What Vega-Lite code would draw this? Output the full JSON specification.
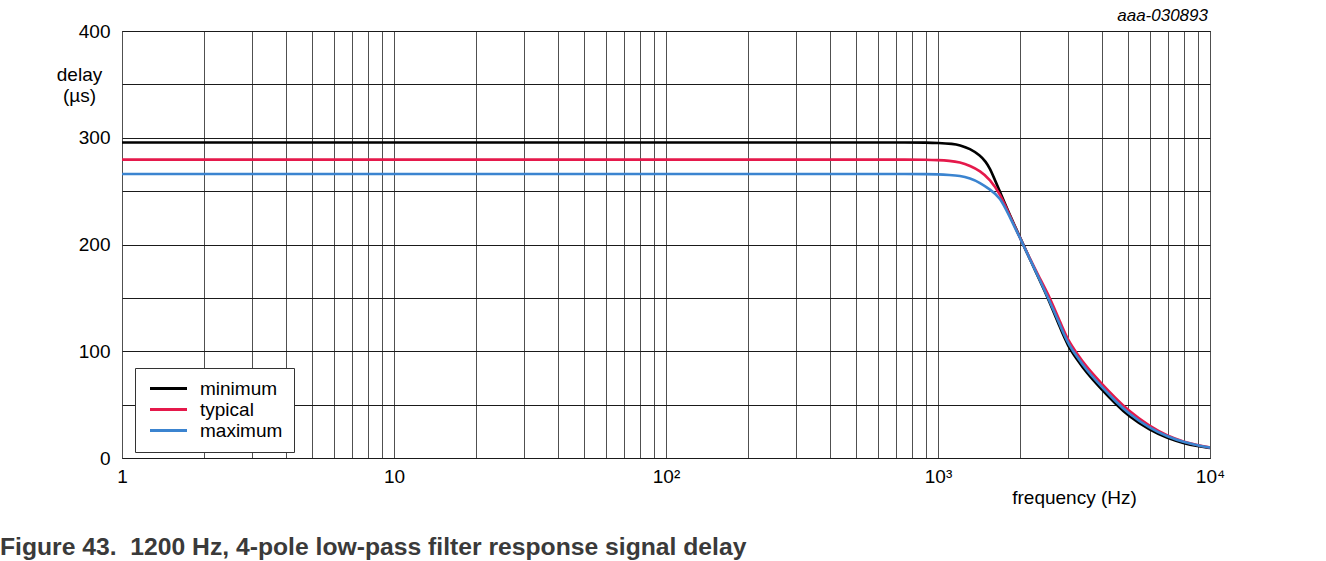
{
  "$schema": "https://vega.github.io/schema/vega-lite/v6.json",
  "width": 1088,
  "height": 427,
  "autosize": {"type": "none"},
  "padding": {"left": 122, "top": 31, "right": 116, "bottom": 103},
  "background": "#ffffff",
  "config": {
    "font": "Liberation Sans",
    "view": {"stroke": "#000000", "strokeWidth": 1}
  },
  "title": {
    "text": "Figure 43.\u00a0 1200 Hz, 4-pole low-pass filter response signal delay",
    "orient": "bottom",
    "anchor": "start",
    "frame": "group",
    "dx": -122,
    "offset": 28,
    "font": "Liberation Sans",
    "fontSize": 24.7,
    "fontWeight": "bold",
    "color": "#3a3a3a"
  },
  "datasets": {
    "curves": [
      {"f": 1, "delay": 295.6, "series": "minimum"},
      {"f": 100, "delay": 295.6, "series": "minimum"},
      {"f": 500, "delay": 295.6, "series": "minimum"},
      {"f": 800, "delay": 295.6, "series": "minimum"},
      {"f": 900, "delay": 295.5, "series": "minimum"},
      {"f": 1000, "delay": 295.2, "series": "minimum"},
      {"f": 1135, "delay": 294.3, "series": "minimum"},
      {"f": 1200, "delay": 293.2, "series": "minimum"},
      {"f": 1311, "delay": 289.8, "series": "minimum"},
      {"f": 1427, "delay": 283.5, "series": "minimum"},
      {"f": 1500, "delay": 277.5, "series": "minimum"},
      {"f": 1553, "delay": 271, "series": "minimum"},
      {"f": 1600, "delay": 263.5, "series": "minimum"},
      {"f": 1690, "delay": 249.5, "series": "minimum"},
      {"f": 1834, "delay": 228, "series": "minimum"},
      {"f": 2000, "delay": 207, "series": "minimum"},
      {"f": 2170, "delay": 187, "series": "minimum"},
      {"f": 2365, "delay": 166.5, "series": "minimum"},
      {"f": 2544, "delay": 149, "series": "minimum"},
      {"f": 2817, "delay": 121.5, "series": "minimum"},
      {"f": 3000, "delay": 105, "series": "minimum"},
      {"f": 3250, "delay": 92, "series": "minimum"},
      {"f": 3500, "delay": 80.5, "series": "minimum"},
      {"f": 4000, "delay": 64, "series": "minimum"},
      {"f": 4500, "delay": 50.5, "series": "minimum"},
      {"f": 5000, "delay": 39.5, "series": "minimum"},
      {"f": 6000, "delay": 26, "series": "minimum"},
      {"f": 7000, "delay": 18.4, "series": "minimum"},
      {"f": 8000, "delay": 13.8, "series": "minimum"},
      {"f": 9000, "delay": 11, "series": "minimum"},
      {"f": 10000, "delay": 9.3, "series": "minimum"},

      {"f": 1, "delay": 279.5, "series": "typical"},
      {"f": 100, "delay": 279.5, "series": "typical"},
      {"f": 500, "delay": 279.5, "series": "typical"},
      {"f": 800, "delay": 279.5, "series": "typical"},
      {"f": 900, "delay": 279.4, "series": "typical"},
      {"f": 1000, "delay": 279.1, "series": "typical"},
      {"f": 1100, "delay": 278.5, "series": "typical"},
      {"f": 1205, "delay": 277, "series": "typical"},
      {"f": 1311, "delay": 273.8, "series": "typical"},
      {"f": 1427, "delay": 269, "series": "typical"},
      {"f": 1553, "delay": 261, "series": "typical"},
      {"f": 1690, "delay": 247.5, "series": "typical"},
      {"f": 1834, "delay": 227.5, "series": "typical"},
      {"f": 2000, "delay": 206.5, "series": "typical"},
      {"f": 2170, "delay": 187.5, "series": "typical"},
      {"f": 2365, "delay": 168.5, "series": "typical"},
      {"f": 2582, "delay": 150, "series": "typical"},
      {"f": 2817, "delay": 127, "series": "typical"},
      {"f": 3000, "delay": 110.5, "series": "typical"},
      {"f": 3250, "delay": 97.5, "series": "typical"},
      {"f": 3500, "delay": 86, "series": "typical"},
      {"f": 4000, "delay": 69.5, "series": "typical"},
      {"f": 4500, "delay": 56, "series": "typical"},
      {"f": 5000, "delay": 44.5, "series": "typical"},
      {"f": 6000, "delay": 29.5, "series": "typical"},
      {"f": 7000, "delay": 20.6, "series": "typical"},
      {"f": 8000, "delay": 15.2, "series": "typical"},
      {"f": 9000, "delay": 12, "series": "typical"},
      {"f": 10000, "delay": 9.8, "series": "typical"},

      {"f": 1, "delay": 266, "series": "maximum"},
      {"f": 100, "delay": 266, "series": "maximum"},
      {"f": 500, "delay": 266, "series": "maximum"},
      {"f": 800, "delay": 266, "series": "maximum"},
      {"f": 900, "delay": 265.9, "series": "maximum"},
      {"f": 1000, "delay": 265.7, "series": "maximum"},
      {"f": 1100, "delay": 265.2, "series": "maximum"},
      {"f": 1205, "delay": 264.5, "series": "maximum"},
      {"f": 1311, "delay": 262, "series": "maximum"},
      {"f": 1427, "delay": 258, "series": "maximum"},
      {"f": 1553, "delay": 251.5, "series": "maximum"},
      {"f": 1690, "delay": 244.5, "series": "maximum"},
      {"f": 1834, "delay": 226, "series": "maximum"},
      {"f": 2000, "delay": 206.5, "series": "maximum"},
      {"f": 2170, "delay": 187, "series": "maximum"},
      {"f": 2365, "delay": 167, "series": "maximum"},
      {"f": 2544, "delay": 149.5, "series": "maximum"},
      {"f": 2817, "delay": 124, "series": "maximum"},
      {"f": 3000, "delay": 107.5, "series": "maximum"},
      {"f": 3250, "delay": 94.5, "series": "maximum"},
      {"f": 3500, "delay": 83, "series": "maximum"},
      {"f": 4000, "delay": 66.5, "series": "maximum"},
      {"f": 4500, "delay": 53, "series": "maximum"},
      {"f": 5000, "delay": 42, "series": "maximum"},
      {"f": 6000, "delay": 28, "series": "maximum"},
      {"f": 7000, "delay": 19.8, "series": "maximum"},
      {"f": 8000, "delay": 14.8, "series": "maximum"},
      {"f": 9000, "delay": 11.7, "series": "maximum"},
      {"f": 10000, "delay": 9.7, "series": "maximum"}
    ],
    "tag": [{"t": "aaa-030893"}]
  },
  "layer": [
    {
      "data": {"name": "curves"},
      "mark": {"type": "line", "strokeWidth": 2.6, "interpolate": "basis", "clip": true},
      "encoding": {
        "x": {
          "field": "f",
          "type": "quantitative",
          "scale": {"type": "log", "domain": [1, 10000]},
          "axis": {
            "values": [1, 2, 3, 4, 5, 6, 7, 8, 9, 10, 20, 30, 40, 50, 60, 70, 80, 90, 100, 200, 300, 400, 500, 600, 700, 800, 900, 1000, 2000, 3000, 4000, 5000, 6000, 7000, 8000, 9000, 10000],
            "labelExpr": "datum.value == 1 ? '1' : datum.value == 10 ? '10' : datum.value == 100 ? '10²' : datum.value == 1000 ? '10³' : datum.value == 10000 ? '10⁴' : ''",
            "grid": true,
            "gridColor": "#505050",
            "gridWidth": 1,
            "gridOpacity": 1,
            "ticks": false,
            "domain": false,
            "labelFont": "Liberation Sans",
            "labelFontSize": 19,
            "labelColor": "#000000",
            "labelPadding": 9,
            "labelOverlap": false,
            "labelBound": false,
            "labelFlush": false,
            "title": "frequency (Hz)",
            "titleFont": "Liberation Sans",
            "titleFontSize": 19,
            "titleFontWeight": "normal",
            "titleColor": "#000000",
            "titleX": 952,
            "titleY": 30,
            "titleAlign": "center",
            "titleBaseline": "top"
          }
        },
        "y": {
          "field": "delay",
          "type": "quantitative",
          "scale": {"domain": [0, 400]},
          "axis": {
            "values": [0, 50, 100, 150, 200, 250, 300, 350, 400],
            "labelExpr": "datum.value % 100 === 0 ? datum.label : ''",
            "grid": true,
            "gridColor": "#1a1a1a",
            "gridWidth": 1,
            "gridOpacity": 1,
            "ticks": false,
            "domain": false,
            "labelFont": "Liberation Sans",
            "labelFontSize": 19,
            "labelColor": "#000000",
            "labelPadding": 12,
            "title": ["delay", "(µs)"],
            "titleFont": "Liberation Sans",
            "titleFontSize": 19,
            "titleFontWeight": "normal",
            "titleColor": "#000000",
            "titleAngle": 0,
            "titleX": -43,
            "titleY": 34,
            "titleAlign": "center",
            "titleBaseline": "top",
            "titleLineHeight": 21
          }
        },
        "color": {
          "field": "series",
          "type": "nominal",
          "scale": {"domain": ["minimum", "typical", "maximum"], "range": ["#000000", "#e5194b", "#3b84d0"]},
          "legend": {
            "orient": "none",
            "legendX": 13,
            "legendY": 337,
            "title": null,
            "symbolType": "M-3.7,0H3.7",
            "symbolSize": 100,
            "symbolStrokeWidth": 3,
            "labelFont": "Liberation Sans",
            "labelFontSize": 19,
            "labelColor": "#000000",
            "labelOffset": 22,
            "symbolOffset": 13,
            "padding": 11,
            "rowPadding": 1,
            "strokeColor": "#333333",
            "fillColor": "#ffffff"
          }
        }
      }
    },
    {
      "data": {"name": "tag"},
      "mark": {"type": "text", "align": "right", "baseline": "alphabetic", "dy": -10, "dx": -2, "fontStyle": "italic", "fontSize": 17, "font": "Liberation Sans", "color": "#000000", "clip": false},
      "encoding": {
        "x": {"datum": 10000, "type": "quantitative"},
        "y": {"datum": 400, "type": "quantitative"},
        "text": {"field": "t"}
      }
    }
  ]
}
